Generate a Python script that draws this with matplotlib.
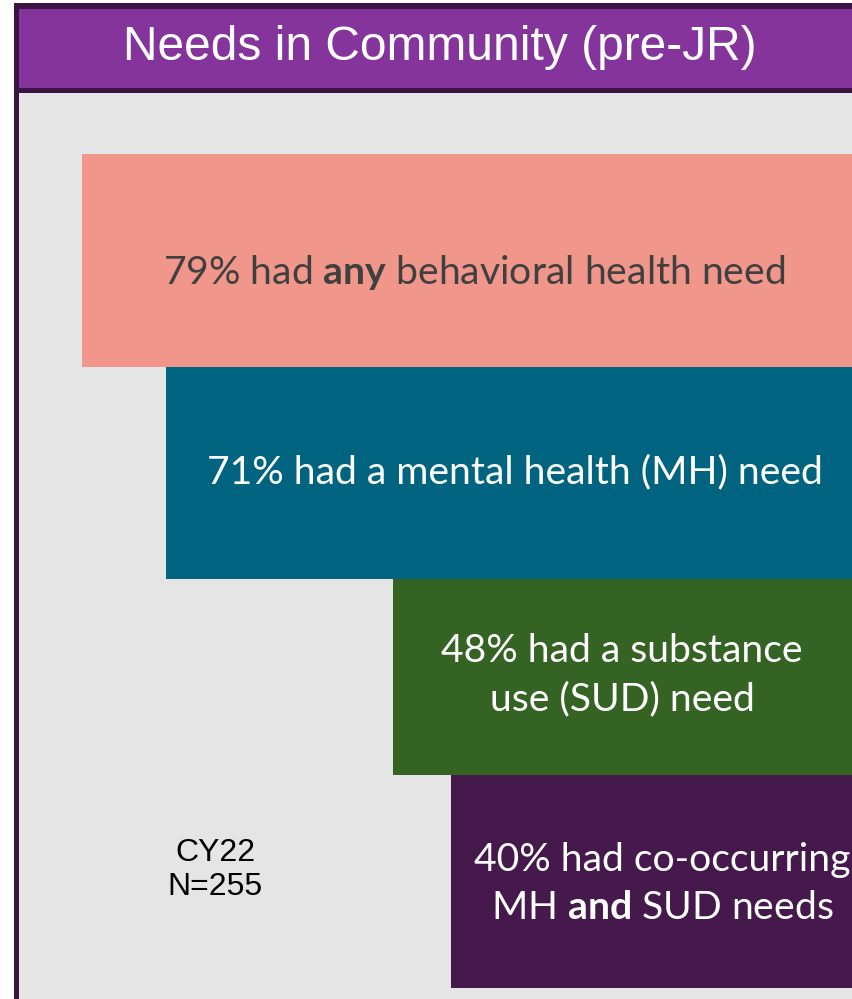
import matplotlib.pyplot as plt
from matplotlib.patches import Rectangle

plt.rcParams["mathtext.fontset"] = "custom"
plt.rcParams["mathtext.rm"] = "Lato"
plt.rcParams["mathtext.bf"] = "Lato:bold"

# values
labels = [
    "79% had $\\bf{any}$ behavioral health need",
    "71% had a mental health (MH) need",
    "48% had a substance\nuse (SUD) need",
    "40% had co-occurring\nMH $\\bf{and}$ SUD needs",
]
bar_left = [82, 166, 393, 451]
bar_top = [154, 367, 579, 775]
bar_bottom = [367, 579, 775, 988]
bar_colors = ["#F0968A", "#006480", "#356324", "#45194B"]
text_colors = ["#404040", "white", "white", "white"]
text_x = [474, 515, 622, 662]
text_y = [272, 472, 675, 884]
title = "Needs in Community (pre-JR)"
note = "CY22\nN=255"

W, H = 853, 999
fig = plt.figure(figsize=(W / 100, H / 100), dpi=100)
ax = fig.add_axes([0, 0, 1, 1])
ax.set_xlim(0, W)
ax.set_ylim(H, 0)
ax.axis("off")

# frame + header
ax.add_patch(Rectangle((14, 3), W, H, facecolor="#3A1443", edgecolor="none"))
ax.add_patch(Rectangle((19, 93), W, H, facecolor="#E5E5E5", edgecolor="none"))
ax.add_patch(Rectangle((19, 9), W, 79, facecolor="#84349A", edgecolor="none"))
ax.text(440, 47, title, color="white", fontsize=34.5, family="Liberation Sans",
        ha="center", va="center")

# bars
right = W
for i in range(len(labels)):
    ax.barh((bar_top[i] + bar_bottom[i]) / 2, right - bar_left[i],
            height=bar_bottom[i] - bar_top[i], left=bar_left[i],
            color=bar_colors[i], edgecolor="none")
    ax.text(text_x[i], text_y[i], labels[i],
            color=text_colors[i], fontsize=28.2, family="Lato",
            ha="center", va="center", linespacing=1.42)

ax.text(215, 870, note, color="black", fontsize=23, family="Liberation Sans",
        ha="center", va="center", linespacing=1.15)

fig.savefig("out.png", dpi=100)
